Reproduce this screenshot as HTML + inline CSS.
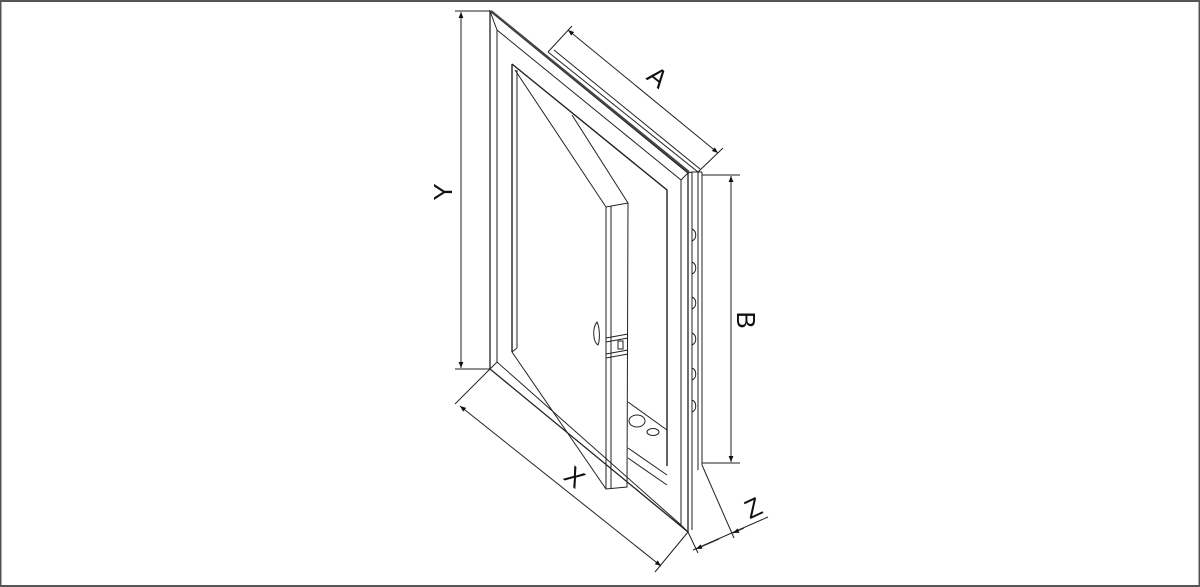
<!DOCTYPE html>
<html><head><meta charset="utf-8"><style>
html,body{margin:0;padding:0;background:#fff;}
svg{display:block;}
text{font-family:"Liberation Sans",sans-serif;font-size:26px;fill:#111;}
</style></head><body>
<svg width="1200" height="587" viewBox="0 0 1200 587" xmlns="http://www.w3.org/2000/svg">
<defs>
<marker id="ar" viewBox="0 0 10 10" refX="10" refY="5" markerWidth="12" markerHeight="6" orient="auto-start-reverse" markerUnits="userSpaceOnUse">
<path d="M0,1 L10,5 L0,9 z" fill="#111"/></marker>
</defs>
<rect x="0.5" y="1" width="1199" height="585" fill="none" stroke="#555" stroke-width="2"/>
<g fill="none" stroke="#222" stroke-width="1">
<path d="M490,11 L688,173 L688,532 L490,369 Z" stroke-width="1.3"/>
<path d="M491,11 L689,172" stroke-width="2.2" stroke="#444"/>
<line x1="497" y1="30" x2="497" y2="362"/>
<path d="M497,30 L681,180 L681,525"/>
<path d="M490,369 L497,362 L681,525 L688,532"/>
<path d="M490,11 L497,30"/><path d="M688,173 L681,180"/>
<path d="M512,64 L667,190 L667,466" stroke-width="1.4"/>
<line x1="512" y1="64" x2="512" y2="352" stroke-width="1.4"/>
<line x1="517" y1="70" x2="517" y2="348"/>
<path d="M512,352 L517,348"/>
<path d="M548,52 L698,172 L702,172"/>
<path d="M554,50 L700,169"/>
<line x1="692" y1="172" x2="692" y2="530"/>
<line x1="702" y1="172" x2="702" y2="465"/>
<line x1="698" y1="172" x2="698" y2="470"/>
<path d="M688,173 L692,172 L698,172"/>
<path d="M628,402 L667,430"/>
<path d="M628,448 L667,475"/>
<path d="M628,458 L667,485"/>
<ellipse cx="637" cy="421" rx="8" ry="6"/>
<ellipse cx="653" cy="432" rx="6" ry="3.5"/>
<path d="M515,70 L606,207 L628,203 L572,115"/>
<path d="M606,207 L606,489 L627,487 L628,203"/>
<line x1="611" y1="206" x2="611" y2="488"/>
<path d="M512,352 L606,489"/>
<path d="M606,338 L628,334 M606,342 L628,338 M606,354 L628,350 M606,358 L628,354"/>
<rect x="618" y="341" width="5" height="8"/>
<path d="M597,322 C592,328 593,342 598,345 C600,340 600,328 597,322 Z"/>
<path d="M692,229 c5,2 5,10 0,12 M692,262 c5,2 5,10 0,12 M692,297 c5,2 5,10 0,12 M692,333 c5,2 5,10 0,12 M692,368 c5,2 5,10 0,12 M692,400 c5,2 5,10 0,12"/>
<line x1="455" y1="11" x2="490" y2="11"/>
<line x1="455" y1="369" x2="490" y2="369"/>
<line x1="461" y1="12" x2="461" y2="368" marker-start="url(#ar)" marker-end="url(#ar)"/>
<line x1="548" y1="52" x2="572" y2="26"/>
<line x1="698" y1="172" x2="723" y2="148"/>
<line x1="568" y1="30" x2="718" y2="153" marker-start="url(#ar)" marker-end="url(#ar)"/>
<line x1="702" y1="175" x2="740" y2="175"/>
<line x1="702" y1="463" x2="740" y2="463"/>
<line x1="731" y1="176" x2="731" y2="462" marker-start="url(#ar)" marker-end="url(#ar)"/>
<line x1="490" y1="369" x2="455" y2="404"/>
<line x1="688" y1="532" x2="655" y2="572"/>
<line x1="460" y1="406" x2="661" y2="566" marker-start="url(#ar)" marker-end="url(#ar)"/>
<line x1="702" y1="465" x2="734" y2="538"/>
<line x1="688" y1="532" x2="698" y2="553"/>
<line x1="693" y1="550" x2="768" y2="517"/>
<line x1="696" y1="549" x2="719" y2="539" marker-start="url(#ar)"/>
<line x1="733" y1="533" x2="744" y2="528" marker-start="url(#ar)"/>
</g>
<text transform="translate(452,192) rotate(-90)" text-anchor="middle">Y</text>
<text transform="translate(652,84) rotate(39)" text-anchor="middle">A</text>
<text transform="translate(737,320) rotate(90)" text-anchor="middle">B</text>
<text transform="translate(569,484) rotate(39)" text-anchor="middle">X</text>
<text transform="translate(757,516) rotate(-25)" text-anchor="middle">Z</text>
</svg>
</body></html>
